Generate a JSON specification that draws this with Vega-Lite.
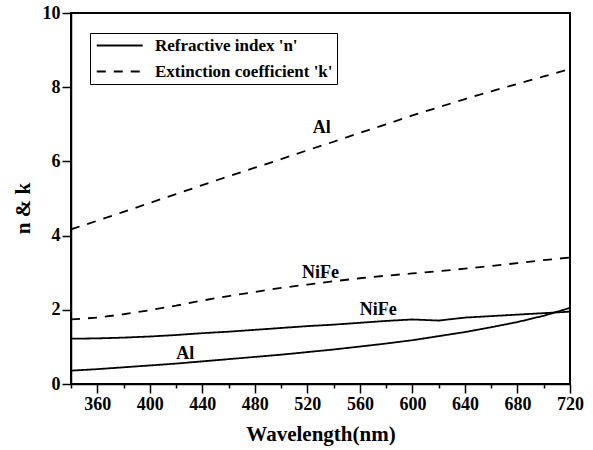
{
  "$schema": "https://vega.github.io/schema/vega-lite/v6.json",
  "width": 499,
  "height": 371,
  "autosize": {"type": "none"},
  "padding": {"left": 71, "top": 13, "right": 23, "bottom": 66},
  "background": "white",
  "config": {
    "view": {"stroke": "black", "strokeWidth": 2},
    "font": "Liberation Serif",
    "axis": {
      "grid": false,
      "domainColor": "black",
      "domainWidth": 1.5,
      "tickColor": "black",
      "tickWidth": 1.5,
      "labelFont": "Liberation Serif",
      "labelFontWeight": "bold",
      "labelFontSize": 18,
      "labelColor": "black",
      "titleFont": "Liberation Serif",
      "titleFontWeight": "bold",
      "titleFontSize": 21,
      "titleColor": "black"
    },
    "legend": {
      "orient": "none",
      "legendX": 19,
      "legendY": 20,
      "strokeColor": "black",
      "padding": 4,
      "labelFont": "Liberation Serif",
      "labelFontWeight": "bold",
      "labelFontSize": 17,
      "labelColor": "black",
      "labelLimit": 400,
      "symbolType": "M-1,0H7",
      "symbolSize": 132,
      "symbolStrokeWidth": 2,
      "symbolStrokeColor": "black",
      "symbolFillColor": "transparent",
      "rowPadding": 8,
      "labelOffset": 44
    }
  },
  "datasets": {
    "curves": [
      {"wl": 340, "value": 4.17, "material": "Al", "quantity": "Extinction coefficient 'k'"},
      {"wl": 360, "value": 4.40, "material": "Al", "quantity": "Extinction coefficient 'k'"},
      {"wl": 380, "value": 4.64, "material": "Al", "quantity": "Extinction coefficient 'k'"},
      {"wl": 400, "value": 4.88, "material": "Al", "quantity": "Extinction coefficient 'k'"},
      {"wl": 420, "value": 5.12, "material": "Al", "quantity": "Extinction coefficient 'k'"},
      {"wl": 440, "value": 5.36, "material": "Al", "quantity": "Extinction coefficient 'k'"},
      {"wl": 460, "value": 5.60, "material": "Al", "quantity": "Extinction coefficient 'k'"},
      {"wl": 480, "value": 5.83, "material": "Al", "quantity": "Extinction coefficient 'k'"},
      {"wl": 500, "value": 6.06, "material": "Al", "quantity": "Extinction coefficient 'k'"},
      {"wl": 520, "value": 6.30, "material": "Al", "quantity": "Extinction coefficient 'k'"},
      {"wl": 540, "value": 6.53, "material": "Al", "quantity": "Extinction coefficient 'k'"},
      {"wl": 560, "value": 6.77, "material": "Al", "quantity": "Extinction coefficient 'k'"},
      {"wl": 580, "value": 7.00, "material": "Al", "quantity": "Extinction coefficient 'k'"},
      {"wl": 600, "value": 7.24, "material": "Al", "quantity": "Extinction coefficient 'k'"},
      {"wl": 620, "value": 7.46, "material": "Al", "quantity": "Extinction coefficient 'k'"},
      {"wl": 640, "value": 7.68, "material": "Al", "quantity": "Extinction coefficient 'k'"},
      {"wl": 660, "value": 7.89, "material": "Al", "quantity": "Extinction coefficient 'k'"},
      {"wl": 680, "value": 8.09, "material": "Al", "quantity": "Extinction coefficient 'k'"},
      {"wl": 700, "value": 8.29, "material": "Al", "quantity": "Extinction coefficient 'k'"},
      {"wl": 720, "value": 8.49, "material": "Al", "quantity": "Extinction coefficient 'k'"},
      {"wl": 340, "value": 1.74, "material": "NiFe", "quantity": "Extinction coefficient 'k'"},
      {"wl": 360, "value": 1.79, "material": "NiFe", "quantity": "Extinction coefficient 'k'"},
      {"wl": 380, "value": 1.88, "material": "NiFe", "quantity": "Extinction coefficient 'k'"},
      {"wl": 400, "value": 1.99, "material": "NiFe", "quantity": "Extinction coefficient 'k'"},
      {"wl": 420, "value": 2.11, "material": "NiFe", "quantity": "Extinction coefficient 'k'"},
      {"wl": 440, "value": 2.25, "material": "NiFe", "quantity": "Extinction coefficient 'k'"},
      {"wl": 460, "value": 2.37, "material": "NiFe", "quantity": "Extinction coefficient 'k'"},
      {"wl": 480, "value": 2.48, "material": "NiFe", "quantity": "Extinction coefficient 'k'"},
      {"wl": 500, "value": 2.59, "material": "NiFe", "quantity": "Extinction coefficient 'k'"},
      {"wl": 520, "value": 2.68, "material": "NiFe", "quantity": "Extinction coefficient 'k'"},
      {"wl": 540, "value": 2.77, "material": "NiFe", "quantity": "Extinction coefficient 'k'"},
      {"wl": 560, "value": 2.85, "material": "NiFe", "quantity": "Extinction coefficient 'k'"},
      {"wl": 580, "value": 2.92, "material": "NiFe", "quantity": "Extinction coefficient 'k'"},
      {"wl": 600, "value": 2.98, "material": "NiFe", "quantity": "Extinction coefficient 'k'"},
      {"wl": 620, "value": 3.04, "material": "NiFe", "quantity": "Extinction coefficient 'k'"},
      {"wl": 640, "value": 3.11, "material": "NiFe", "quantity": "Extinction coefficient 'k'"},
      {"wl": 660, "value": 3.18, "material": "NiFe", "quantity": "Extinction coefficient 'k'"},
      {"wl": 680, "value": 3.26, "material": "NiFe", "quantity": "Extinction coefficient 'k'"},
      {"wl": 700, "value": 3.34, "material": "NiFe", "quantity": "Extinction coefficient 'k'"},
      {"wl": 720, "value": 3.41, "material": "NiFe", "quantity": "Extinction coefficient 'k'"},
      {"wl": 340, "value": 1.22, "material": "NiFe", "quantity": "Refractive index 'n'"},
      {"wl": 360, "value": 1.23, "material": "NiFe", "quantity": "Refractive index 'n'"},
      {"wl": 380, "value": 1.25, "material": "NiFe", "quantity": "Refractive index 'n'"},
      {"wl": 400, "value": 1.28, "material": "NiFe", "quantity": "Refractive index 'n'"},
      {"wl": 420, "value": 1.32, "material": "NiFe", "quantity": "Refractive index 'n'"},
      {"wl": 440, "value": 1.37, "material": "NiFe", "quantity": "Refractive index 'n'"},
      {"wl": 460, "value": 1.41, "material": "NiFe", "quantity": "Refractive index 'n'"},
      {"wl": 480, "value": 1.46, "material": "NiFe", "quantity": "Refractive index 'n'"},
      {"wl": 500, "value": 1.51, "material": "NiFe", "quantity": "Refractive index 'n'"},
      {"wl": 520, "value": 1.56, "material": "NiFe", "quantity": "Refractive index 'n'"},
      {"wl": 540, "value": 1.60, "material": "NiFe", "quantity": "Refractive index 'n'"},
      {"wl": 560, "value": 1.65, "material": "NiFe", "quantity": "Refractive index 'n'"},
      {"wl": 580, "value": 1.70, "material": "NiFe", "quantity": "Refractive index 'n'"},
      {"wl": 600, "value": 1.74, "material": "NiFe", "quantity": "Refractive index 'n'"},
      {"wl": 620, "value": 1.71, "material": "NiFe", "quantity": "Refractive index 'n'"},
      {"wl": 640, "value": 1.79, "material": "NiFe", "quantity": "Refractive index 'n'"},
      {"wl": 660, "value": 1.83, "material": "NiFe", "quantity": "Refractive index 'n'"},
      {"wl": 680, "value": 1.87, "material": "NiFe", "quantity": "Refractive index 'n'"},
      {"wl": 700, "value": 1.91, "material": "NiFe", "quantity": "Refractive index 'n'"},
      {"wl": 720, "value": 1.95, "material": "NiFe", "quantity": "Refractive index 'n'"},
      {"wl": 340, "value": 0.36, "material": "Al", "quantity": "Refractive index 'n'"},
      {"wl": 360, "value": 0.40, "material": "Al", "quantity": "Refractive index 'n'"},
      {"wl": 380, "value": 0.45, "material": "Al", "quantity": "Refractive index 'n'"},
      {"wl": 400, "value": 0.50, "material": "Al", "quantity": "Refractive index 'n'"},
      {"wl": 420, "value": 0.55, "material": "Al", "quantity": "Refractive index 'n'"},
      {"wl": 440, "value": 0.61, "material": "Al", "quantity": "Refractive index 'n'"},
      {"wl": 460, "value": 0.67, "material": "Al", "quantity": "Refractive index 'n'"},
      {"wl": 480, "value": 0.73, "material": "Al", "quantity": "Refractive index 'n'"},
      {"wl": 500, "value": 0.79, "material": "Al", "quantity": "Refractive index 'n'"},
      {"wl": 520, "value": 0.86, "material": "Al", "quantity": "Refractive index 'n'"},
      {"wl": 540, "value": 0.93, "material": "Al", "quantity": "Refractive index 'n'"},
      {"wl": 560, "value": 1.01, "material": "Al", "quantity": "Refractive index 'n'"},
      {"wl": 580, "value": 1.09, "material": "Al", "quantity": "Refractive index 'n'"},
      {"wl": 600, "value": 1.18, "material": "Al", "quantity": "Refractive index 'n'"},
      {"wl": 620, "value": 1.29, "material": "Al", "quantity": "Refractive index 'n'"},
      {"wl": 640, "value": 1.40, "material": "Al", "quantity": "Refractive index 'n'"},
      {"wl": 660, "value": 1.53, "material": "Al", "quantity": "Refractive index 'n'"},
      {"wl": 680, "value": 1.67, "material": "Al", "quantity": "Refractive index 'n'"},
      {"wl": 700, "value": 1.84, "material": "Al", "quantity": "Refractive index 'n'"},
      {"wl": 720, "value": 2.05, "material": "Al", "quantity": "Refractive index 'n'"}
    ],
    "labels": [
      {"label": "Al", "wl": 531, "value": 6.9},
      {"label": "NiFe", "wl": 530, "value": 2.98},
      {"label": "NiFe", "wl": 574, "value": 1.99},
      {"label": "Al", "wl": 427, "value": 0.8}
    ]
  },
  "resolve": {"axis": {"x": "independent"}},
  "layer": [
    {
      "data": {"name": "curves"},
      "mark": {"type": "line", "color": "black", "strokeWidth": 1.8, "clip": true},
      "encoding": {
        "x": {
          "field": "wl", "type": "quantitative",
          "scale": {"domain": [340, 720], "nice": false, "zero": false},
          "axis": {
            "title": "Wavelength(nm)",
            "orient": "bottom",
            "values": [360, 400, 440, 480, 520, 560, 600, 640, 680, 720],
            "tickSize": 9,
            "labelPadding": 2,
            "titlePadding": 10,
            "labelFlush": false,
            "labelOverlap": false
          }
        },
        "y": {
          "field": "value", "type": "quantitative",
          "scale": {"domain": [0, 10], "nice": false},
          "axis": {
            "title": "n & k",
            "values": [0, 1, 2, 3, 4, 5, 6, 7, 8, 9, 10],
            "labelExpr": "datum.value % 2 == 0 ? datum.label : ''",
            "tickSize": {"condition": {"test": "datum.value % 2 == 0", "value": 9}, "value": 4},
            "labelPadding": 2,
            "titlePadding": 9,
            "titleY": 195,
            "labelFlush": false,
            "labelOverlap": false
          }
        },
        "detail": {"field": "material"},
        "strokeDash": {
          "field": "quantity", "type": "nominal",
          "scale": {"domain": ["Refractive index 'n'", "Extinction coefficient 'k'"], "range": [[1, 0], [9, 8]]},
          "legend": {"title": null}
        }
      }
    },
    {
      "data": {"name": "labels"},
      "mark": {"type": "text", "font": "Liberation Serif", "fontWeight": "bold", "fontSize": 18, "color": "black"},
      "encoding": {
        "x": {
          "field": "wl", "type": "quantitative",
          "axis": {
            "orient": "bottom",
            "title": null,
            "values": [340, 380, 420, 460, 500, 540, 580, 620, 660, 700],
            "tickSize": 4,
            "labels": false,
            "domain": false
          }
        },
        "y": {"field": "value", "type": "quantitative"},
        "text": {"field": "label"}
      }
    }
  ]
}
